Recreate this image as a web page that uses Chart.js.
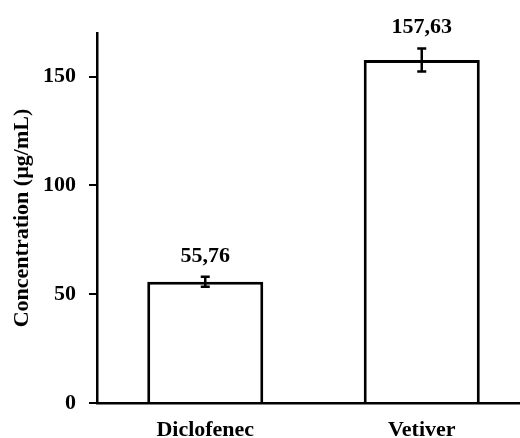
<!DOCTYPE html>
<html>
<head>
<meta charset="utf-8">
<script src="https://cdn.jsdelivr.net/npm/chart.js@4"></script>
<style>
  html, body { margin: 0; padding: 0; background: #fff; overflow: hidden; }
  #wrap { position: absolute; left: 0; top: 0; width: 540px; height: 438px; }
</style>
</head>
<body>
<div id="wrap"><canvas id="c" width="540" height="438"></canvas></div>
<script>
const categories = ["Diclofenec", "Vetiver"];
const values = [55.76, 157.63];
const errors = [2.3, 5.3];
const valueLabels = ["55,76", "157,63"];
const yTicks = [0, 50, 100, 150];
const yTitle = "Concentration (µg/mL)";

const FONT = "'Liberation Serif', 'Times New Roman', serif";

const errorBarPlugin = {
  id: 'errorBars',
  afterDatasetsDraw(chart) {
    const ctx = chart.ctx;
    const meta = chart.getDatasetMeta(0);
    const yScale = chart.scales.y;
    ctx.save();
    ctx.strokeStyle = '#000';
    ctx.lineWidth = 2.5;
    meta.data.forEach((bar, i) => {
      const x = bar.x;
      const yTop = yScale.getPixelForValue(values[i] + errors[i]);
      const yBot = yScale.getPixelForValue(values[i] - errors[i]);
      ctx.beginPath();
      ctx.moveTo(x, yTop); ctx.lineTo(x, yBot);
      ctx.moveTo(x - 4.5, yTop); ctx.lineTo(x + 4.5, yTop);
      ctx.moveTo(x - 4.5, yBot); ctx.lineTo(x + 4.5, yBot);
      ctx.stroke();
      ctx.fillStyle = '#000';
      ctx.font = "bold 22px " + FONT;
      ctx.textAlign = 'center';
      ctx.textBaseline = 'alphabetic';
      ctx.fillText(valueLabels[i], x, yTop - 15);
    });
    ctx.restore();
  }
};

new Chart(document.getElementById('c'), {
  type: 'bar',
  data: {
    labels: categories,
    datasets: [{
      data: values,
      backgroundColor: '#ffffff',
      borderColor: '#000000',
      borderWidth: 3,
      categoryPercentage: 1,
      barPercentage: 0.536
    }]
  },
  options: {
    responsive: false,
    animation: false,
    layout: { padding: { top: 33, right: 10, left: 0, bottom: 0 } },
    plugins: { legend: { display: false }, tooltip: { enabled: false } },
    scales: {
      x: {
        afterFit(s) { s.height = 35; },
        grid: { display: false },
        border: { display: true, color: '#000', width: 2.5 },
        ticks: {
          color: '#000',
          padding: 6,
          font: { family: FONT, size: 22, weight: 'bold' }
        }
      },
      y: {
        min: 0,
        max: 170,
        afterFit(s) { s.width = 97; },
        afterBuildTicks(s) { s.ticks = yTicks.map(v => ({ value: v })); },
        grid: { display: true, drawOnChartArea: false, drawTicks: true, tickLength: 8, color: '#000', lineWidth: 2 },
        border: { display: true, color: '#000', width: 2.5 },
        ticks: {
          color: '#000',
          padding: 13,
          font: { family: FONT, size: 22, weight: 'bold' }
        },
        title: {
          display: true,
          text: yTitle,
          color: '#000',
          padding: { top: 9, bottom: 0 },
          font: { family: FONT, size: 22, weight: 'bold' }
        }
      }
    }
  },
  plugins: [errorBarPlugin]
});
</script>
</body>
</html>
